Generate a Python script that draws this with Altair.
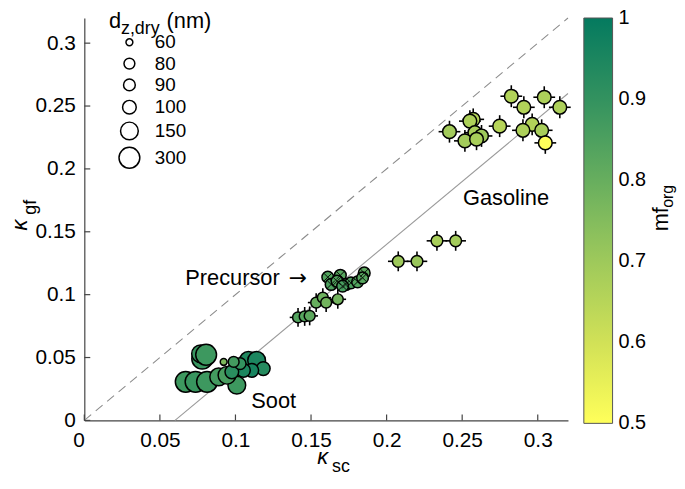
import altair as alt
import pandas as pd

FONT = "Liberation Sans"
W, H = 488, 406

# ---------------- data ----------------
# Gasoline cluster (d = 100 nm)
gas_x = [0.2825, 0.3043, 0.2908, 0.3146, 0.2748, 0.2963, 0.2902, 0.3026, 0.2416,
         0.2573, 0.2551, 0.2584, 0.2628, 0.2518, 0.2595, 0.3050]
gas_y = [0.2578, 0.2570, 0.2490, 0.2490, 0.2340, 0.2354, 0.2307, 0.2307, 0.2296,
         0.2394, 0.2380, 0.2288, 0.2262, 0.2223, 0.2236, 0.2207]
gas_mf = [0.66, 0.67, 0.66, 0.67, 0.65, 0.66, 0.67, 0.68, 0.69,
          0.66, 0.67, 0.68, 0.70, 0.69, 0.68, 0.50]
gas_d = [100] * 16
gas_xe = [0.0072] * 16
gas_ye = [0.0087] * 16

# intermediate points (d = 90 nm)
mid_x = [0.2333, 0.2457, 0.2077, 0.2201]
mid_y = [0.1428, 0.1428, 0.1265, 0.1265]
mid_mf = [0.68, 0.69, 0.70, 0.71]
mid_d = [90, 90, 90, 90]
mid_xe = [0.0068] * 4
mid_ye = [0.0079] * 4

# chain below precursor (d = 80 nm)
chain_x = [0.1414, 0.1458, 0.1491, 0.1534, 0.1578, 0.1600, 0.1677]
chain_y = [0.0819, 0.0827, 0.0831, 0.0937, 0.0976, 0.0937, 0.0963]
chain_mf = [0.84, 0.83, 0.82, 0.80, 0.79, 0.78, 0.78]
chain_d = [80] * 7
chain_xe = [0.0055] * 7
chain_ye = [0.0075] * 7

# precursor cluster (d = 90 nm)
prec_x = [0.1611, 0.1694, 0.1852, 0.1633, 0.1672, 0.1731, 0.1764, 0.1808, 0.1841, 0.1709]
prec_y = [0.1139, 0.1154, 0.1173, 0.1081, 0.1107, 0.1081, 0.1094, 0.1102, 0.1134, 0.1068]
prec_mf = [0.84, 0.83, 0.82, 0.85, 0.84, 0.86, 0.85, 0.84, 0.83, 0.86]
prec_d = [90] * 10

# soot cluster
soot_x = [0.0780, 0.0769, 0.0806, 0.0671, 0.0736, 0.0812, 0.0889, 0.1009, 0.0944,
          0.1086, 0.1140, 0.1184, 0.1108, 0.1053, 0.0976, 0.1031, 0.0988, 0.0922]
soot_y = [0.0491, 0.0530, 0.0522, 0.0307, 0.0307, 0.0307, 0.0346, 0.0280, 0.0359,
          0.0477, 0.0477, 0.0412, 0.0398, 0.0398, 0.0386, 0.0451, 0.0465, 0.0465]
soot_d = [300, 150, 300, 300, 300, 300, 150, 150, 150,
          150, 150, 100, 100, 100, 100, 90, 80, 60]
soot_mf = [0.89, 0.89, 0.88, 0.88, 0.89, 0.88, 0.87, 0.88, 0.86,
           0.94, 0.95, 0.93, 0.96, 0.95, 0.92, 0.90, 0.87, 0.76]

# reference lines
one_x = [0.0, 0.32]
one_y = [0.0, 0.32]
fit_x = [0.06, 0.32]
fit_y = [0.0, 0.26]

# ticks / legend values
ticks = [0, 0.05, 0.1, 0.15, 0.2, 0.25, 0.3]
size_vals = [60, 80, 90, 100, 150, 300]
size_area = [48, 120, 140, 190, 320, 440]
mf_ticks = [0.5, 0.6, 0.7, 0.8, 0.9, 1.0]
mf_stops = [0.4999, 0.6, 0.7, 0.8, 0.9, 1.0001]
mf_colors = ["#ffff5a", "#d1e157", "#9ec95b", "#67ae5e", "#33925f", "#047a5f"]

# annotations
ann_text = ["Gasoline", "Precursor", "\u2192", "Soot"]
ann_x = [0.279, 0.1293, 0.1352, 0.1253]
ann_y = [0.171, 0.108, 0.108, 0.0097]

# ---------------- tables ----------------
rows = []
def add(xs, ys, mfs, ds, xes, yes, grp):
    for i in range(len(xs)):
        rows.append(dict(kx=xs[i], ky=ys[i], mf=mfs[i], d=ds[i],
                         xe=xes[i], ye=yes[i], grp=grp))

add(soot_x, soot_y, soot_mf, soot_d, [0] * len(soot_x), [0] * len(soot_x), "soot")
add(chain_x, chain_y, chain_mf, chain_d, chain_xe, chain_ye, "chain")
add(prec_x, prec_y, prec_mf, prec_d, [0] * len(prec_x), [0] * len(prec_x), "prec")
add(mid_x, mid_y, mid_mf, mid_d, mid_xe, mid_ye, "mid")
add(gas_x, gas_y, gas_mf, gas_d, gas_xe, gas_ye, "gas")
df = pd.DataFrame(rows)
df["order"] = range(len(df))

lines = pd.DataFrame({
    "lx": one_x + fit_x,
    "ly": one_y + fit_y,
    "which": ["one", "one", "fit", "fit"],
})
tick_df = pd.DataFrame({"t": ticks})

xs = alt.Scale(domain=[0, 0.32], nice=False, zero=False)
ys = alt.Scale(domain=[0, 0.32], nice=False, zero=False)

def mk_axis(kind):
    extra = {}
    if kind == "x":
        extra["labelAlign"] = {"condition": {"test": "datum.value === 0", "value": "right"},
                               "value": "center"}
    return alt.Axis(values=ticks, format=".2~f", title=None, ticks=False, grid=False,
                    labelFontSize=21, labelPadding=9, domainColor="#444", domainWidth=1.2,
                    labelFont=FONT, labelColor="black", **extra)

def X(f):
    return alt.X(f, scale=xs, axis=mk_axis("x"))

def Y(f):
    return alt.Y(f, scale=ys, axis=mk_axis("y"))

# reference lines
one_line = alt.Chart(lines).transform_filter("datum.which == 'one'").mark_line(
    color="#8c8c8c", strokeWidth=1.1, strokeDash=[9, 6]
).encode(x=X("lx:Q"), y=Y("ly:Q"))

fit_line = alt.Chart(lines).transform_filter("datum.which == 'fit'").mark_line(
    color="#9a9a9a", strokeWidth=1.1
).encode(x=X("lx:Q"), y=Y("ly:Q"))

# inward ticks
xtick = alt.Chart(tick_df).mark_rule(color="#444", strokeWidth=1.2).encode(
    x=X("t:Q"), y=alt.value(H), y2=alt.value(H - 6))
ytick = alt.Chart(tick_df).mark_rule(color="#444", strokeWidth=1.2).encode(
    y=Y("t:Q"), x=alt.value(0), x2=alt.value(6))

base = alt.Chart(df)
err_h = base.transform_filter("datum.xe > 0").transform_calculate(
    xa="datum.kx - datum.xe", xb="datum.kx + datum.xe"
).mark_rule(color="black", strokeWidth=1.6).encode(
    x=X("xa:Q"), x2="xb:Q", y=Y("ky:Q"))
err_v = base.transform_filter("datum.ye > 0").transform_calculate(
    ya="datum.ky - datum.ye", yb="datum.ky + datum.ye"
).mark_rule(color="black", strokeWidth=1.6).encode(
    x=X("kx:Q"), y=Y("ya:Q"), y2="yb:Q")

color_enc = alt.Color(
    "mf:Q",
    scale=alt.Scale(domain=mf_stops, range=mf_colors, interpolate="rgb"),
    legend=alt.Legend(orient="none", legendX=504, legendY=0, direction="vertical",
                      gradientLength=409, gradientThickness=29, title=None,
                      values=mf_ticks, format=".1~f", labelFontSize=20, labelFont=FONT,
                      labelColor="black", labelOffset=6, labelBaseline="middle",
                      gradientStrokeColor="#555", gradientStrokeWidth=1, padding=0),
)
size_enc = alt.Size(
    "d:Q",
    scale=alt.Scale(domain=size_vals, range=size_area, zero=False, nice=False),
    legend=alt.Legend(orient="none", legendX=34, legendY=15, title=None,
                      values=size_vals, symbolType="circle", symbolFillColor="white",
                      symbolStrokeColor="black", symbolStrokeWidth=1.5,
                      labelFontSize=19, labelFont=FONT, labelColor="black",
                      labelOffset=14, rowPadding=1.5, gridAlign="each", padding=0),
)

points = base.mark_point(filled=True, stroke="black", strokeWidth=1.5, opacity=1,
                         fillOpacity=1, shape="circle").encode(
    x=X("kx:Q"),
    y=Y("ky:Q"),
    color=color_enc,
    size=size_enc,
    order="order:Q",
)

xmark = base.transform_filter("datum.grp == 'prec'").mark_point(
    shape="M-0.62,-0.62L0.62,0.62M-0.62,0.62L0.62,-0.62", filled=False,
    stroke="black", strokeWidth=1, size=170, opacity=0.9
).encode(x=X("kx:Q"), y=Y("ky:Q"))

ann = pd.DataFrame({"t": ann_text, "ax": ann_x, "ay": ann_y})
def ann_layer(i, align, font=FONT):
    return alt.Chart(ann).transform_filter(f"datum.t == '{ann_text[i]}'").mark_text(
        font=font, fontSize=22, align=align, baseline="alphabetic", color="black"
    ).encode(x=X("ax:Q"), y=Y("ay:Q"), text="t:N")

def label(txt, x, y, size, align="left", angle=0, style="normal"):
    return alt.Chart(pd.DataFrame({"t": [txt]})).mark_text(
        font=FONT, fontSize=size, align=align, baseline="alphabetic", angle=angle,
        fontStyle=style, color="black"
    ).encode(x=alt.value(x), y=alt.value(y), text="t:N")

labels = [
    # x axis title  kappa_sc
    label("\u03ba", 246, 450, 22, "right", 0, "italic"),
    label("sc", 250, 458, 18, "left"),
    # y axis title  kappa_gf
    label("\u03ba", -58, 209, 22, "center", 270, "italic"),
    label("gf", -49, 191, 18, "center", 270),
    # size legend title
    label("d", 25, 10, 22, "left"),
    label("z,dry", 37, 16, 18, "left"),
    label("(nm)", 83, 10, 22, "left"),
    # colorbar title
    label("mf", 589, 203, 22, "center", 270),
    label("org", 594, 180, 16, "center", 270),
]

chart = alt.layer(
    one_line, fit_line, xtick, ytick, err_h, err_v, points, xmark,
    ann_layer(0, "center"), ann_layer(1, "right"), ann_layer(2, "left", "DejaVu Sans"),
    ann_layer(3, "center"),
    *labels,
).properties(
    width=W, height=H,
    padding={"left": 77, "top": 8, "right": 110, "bottom": 54},
    autosize=alt.AutoSizeParams(type="none"),
).resolve_legend(color="independent", size="independent").configure_view(stroke=None)

chart.save("out.html", embed_options={"renderer": "svg", "actions": False})
